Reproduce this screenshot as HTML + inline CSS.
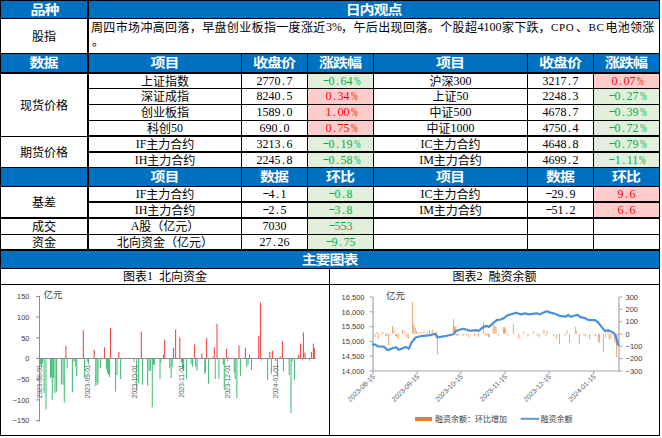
<!DOCTYPE html>
<html lang="zh-CN"><head><meta charset="utf-8"><title>股指日内观点</title><style>
*{margin:0;padding:0;box-sizing:border-box}
html,body{width:662px;height:438px;overflow:hidden;background:#fff}
body{position:relative}
div{position:absolute}
.t,.hb{font-family:"Liberation Sans","Noto Sans CJK SC",sans-serif;font-size:12px;color:#000;text-align:center;white-space:nowrap}
.hb{color:#fff;font-weight:bold;font-size:13px;letter-spacing:-0.9px;text-indent:-0.9px;transform:scaleX(1.15)}
.p{text-align:left;height:14px;line-height:14px}
.d{display:inline-block;width:6px;text-align:center;transform:translateY(-1px) scaleX(1.7)}
.w6{display:inline-block;width:6px;text-align:center}
.pc{display:inline-block;width:6px;text-align:center;transform:scaleX(0.66)}
.m{font-family:"Liberation Serif",serif;font-size:12px;position:relative;top:-1px}
svg{position:absolute;left:0;top:0}
</style></head>
<body>
<div style="left:1px;top:1px;width:658px;height:17px;background:#0070C0"></div>
<div style="left:1px;top:54px;width:658px;height:18px;background:#0070C0"></div>
<div style="left:1px;top:168px;width:658px;height:18px;background:#0070C0"></div>
<div style="left:1px;top:251px;width:658px;height:17px;background:#0070C0"></div>
<div style="left:308px;top:74px;width:65px;height:14px;background:#E2EFDA"></div>
<div style="left:594px;top:74px;width:65px;height:14px;background:#FFCCCC"></div>
<div style="left:308px;top:89px;width:65px;height:15px;background:#FFCCCC"></div>
<div style="left:594px;top:89px;width:65px;height:15px;background:#E2EFDA"></div>
<div style="left:308px;top:105px;width:65px;height:15px;background:#FFCCCC"></div>
<div style="left:594px;top:105px;width:65px;height:15px;background:#E2EFDA"></div>
<div style="left:308px;top:121px;width:65px;height:14px;background:#FFCCCC"></div>
<div style="left:594px;top:121px;width:65px;height:14px;background:#E2EFDA"></div>
<div style="left:308px;top:137px;width:65px;height:14px;background:#E2EFDA"></div>
<div style="left:594px;top:137px;width:65px;height:14px;background:#E2EFDA"></div>
<div style="left:308px;top:153px;width:65px;height:14px;background:#E2EFDA"></div>
<div style="left:594px;top:153px;width:65px;height:14px;background:#E2EFDA"></div>
<div style="left:308px;top:187px;width:65px;height:14px;background:#E2EFDA"></div>
<div style="left:594px;top:187px;width:65px;height:14px;background:#FFCCCC"></div>
<div style="left:308px;top:203px;width:65px;height:14px;background:#E2EFDA"></div>
<div style="left:594px;top:203px;width:65px;height:14px;background:#FFCCCC"></div>
<div style="left:308px;top:219px;width:65px;height:15px;background:#E2EFDA"></div>
<div style="left:308px;top:235px;width:65px;height:14px;background:#E2EFDA"></div>
<div style="left:0px;top:0px;width:660px;height:1px;background:#000"></div>
<div style="left:0px;top:18px;width:660px;height:1px;background:#000"></div>
<div style="left:0px;top:53px;width:660px;height:1px;background:#000"></div>
<div style="left:0px;top:72px;width:660px;height:2px;background:#000"></div>
<div style="left:87px;top:88px;width:573px;height:1px;background:#000"></div>
<div style="left:87px;top:104px;width:573px;height:1px;background:#000"></div>
<div style="left:87px;top:120px;width:573px;height:1px;background:#000"></div>
<div style="left:87px;top:135px;width:573px;height:2px;background:#000"></div>
<div style="left:0px;top:136px;width:87px;height:1px;background:#000"></div>
<div style="left:87px;top:151px;width:573px;height:2px;background:#000"></div>
<div style="left:0px;top:167px;width:660px;height:1px;background:#000"></div>
<div style="left:0px;top:186px;width:660px;height:1px;background:#000"></div>
<div style="left:87px;top:201px;width:573px;height:2px;background:#000"></div>
<div style="left:0px;top:217px;width:660px;height:2px;background:#000"></div>
<div style="left:0px;top:234px;width:660px;height:1px;background:#000"></div>
<div style="left:0px;top:249px;width:660px;height:2px;background:#000"></div>
<div style="left:0px;top:268px;width:660px;height:1px;background:#000"></div>
<div style="left:0px;top:284px;width:660px;height:1px;background:#000"></div>
<div style="left:0px;top:435px;width:660px;height:1px;background:#000"></div>
<div style="left:0px;top:0px;width:1px;height:436px;background:#000"></div>
<div style="left:659px;top:0px;width:1px;height:436px;background:#000"></div>
<div style="left:87px;top:0px;width:2px;height:251px;background:#000"></div>
<div style="left:241px;top:53px;width:1px;height:197px;background:#000"></div>
<div style="left:307px;top:53px;width:1px;height:197px;background:#000"></div>
<div style="left:373px;top:53px;width:1px;height:197px;background:#000"></div>
<div style="left:527px;top:53px;width:1px;height:197px;background:#000"></div>
<div style="left:593px;top:53px;width:1px;height:197px;background:#000"></div>
<div style="left:329px;top:268px;width:1px;height:168px;background:#000"></div>
<div class="hb" style="left:1px;top:1px;width:88px;height:17px;line-height:17px;">品种</div>
<div class="hb" style="left:89px;top:1px;width:570px;height:17px;line-height:17px;">日内观点</div>
<div class="t" style="left:1px;top:20px;width:86px;height:34px;line-height:34px;">股指</div>
<div class="t p" style="left:91px;top:21px;letter-spacing:0.35px">周四市场冲高回落，早盘创业板指一度涨近</div>
<div class="t p" style="left:326px;top:21px;letter-spacing:0px"><span class="m">3%</span></div>
<div class="t p" style="left:341px;top:21px;letter-spacing:0.4px">，午后出现回落。个股超</div>
<div class="t p" style="left:477.5px;top:21px;letter-spacing:0px"><span class="m">4100</span></div>
<div class="t p" style="left:502px;top:21px;letter-spacing:0.2px">家下跌，</div>
<div class="t p" style="left:551px;top:21px;letter-spacing:0px"><span class="m" style="font-size:11px;letter-spacing:0.6px">CPO</span></div>
<div class="t p" style="left:576px;top:21px;letter-spacing:0px">、</div>
<div class="t p" style="left:588.5px;top:21px;letter-spacing:0px"><span class="m" style="font-size:11px;letter-spacing:0.6px">BC</span></div>
<div class="t p" style="left:605.5px;top:21px;letter-spacing:0.25px">电池领涨</div>
<div class="t p" style="left:92px;top:35px">。</div>
<div class="hb" style="left:1px;top:54px;width:86px;height:18px;line-height:18px;">数据</div>
<div class="hb" style="left:89px;top:54px;width:152px;height:18px;line-height:18px;">项目</div>
<div class="hb" style="left:242px;top:54px;width:65px;height:18px;line-height:18px;">收盘价</div>
<div class="hb" style="left:308px;top:54px;width:65px;height:18px;line-height:18px;">涨跌幅</div>
<div class="hb" style="left:374px;top:54px;width:153px;height:18px;line-height:18px;">项目</div>
<div class="hb" style="left:528px;top:54px;width:65px;height:18px;line-height:18px;">收盘价</div>
<div class="hb" style="left:594px;top:54px;width:65px;height:18px;line-height:18px;">涨跌幅</div>
<div class="t" style="left:1px;top:75px;width:86px;height:62px;line-height:62px;">现货价格</div>
<div class="t" style="left:1px;top:138px;width:86px;height:30px;line-height:30px;">期货价格</div>
<div class="t" style="left:89px;top:75px;width:152px;height:14px;line-height:14px;">上证指数</div>
<div class="t" style="left:242px;top:75px;width:65px;height:14px;line-height:14px;"><span class="m">2770<span class="w6">.</span>7</span></div>
<div class="t" style="left:308px;top:75px;width:65px;height:14px;line-height:14px;color:#00B050"><span class="m"><span class="d">-</span>0<span class="w6">.</span>64<span class="pc">%</span></span></div>
<div class="t" style="left:374px;top:75px;width:153px;height:14px;line-height:14px;">沪深<span class="m">300</span></div>
<div class="t" style="left:528px;top:75px;width:65px;height:14px;line-height:14px;"><span class="m">3217<span class="w6">.</span>7</span></div>
<div class="t" style="left:594px;top:75px;width:65px;height:14px;line-height:14px;color:#FF0000"><span class="m">0<span class="w6">.</span>07<span class="pc">%</span></span></div>
<div class="t" style="left:89px;top:90px;width:152px;height:15px;line-height:15px;">深证成指</div>
<div class="t" style="left:242px;top:90px;width:65px;height:15px;line-height:15px;"><span class="m">8240<span class="w6">.</span>5</span></div>
<div class="t" style="left:308px;top:90px;width:65px;height:15px;line-height:15px;color:#FF0000"><span class="m">0<span class="w6">.</span>34<span class="pc">%</span></span></div>
<div class="t" style="left:374px;top:90px;width:153px;height:15px;line-height:15px;">上证<span class="m">50</span></div>
<div class="t" style="left:528px;top:90px;width:65px;height:15px;line-height:15px;"><span class="m">2248<span class="w6">.</span>3</span></div>
<div class="t" style="left:594px;top:90px;width:65px;height:15px;line-height:15px;color:#00B050"><span class="m"><span class="d">-</span>0<span class="w6">.</span>27<span class="pc">%</span></span></div>
<div class="t" style="left:89px;top:106px;width:152px;height:15px;line-height:15px;">创业板指</div>
<div class="t" style="left:242px;top:106px;width:65px;height:15px;line-height:15px;"><span class="m">1589<span class="w6">.</span>0</span></div>
<div class="t" style="left:308px;top:106px;width:65px;height:15px;line-height:15px;color:#FF0000"><span class="m">1<span class="w6">.</span>00<span class="pc">%</span></span></div>
<div class="t" style="left:374px;top:106px;width:153px;height:15px;line-height:15px;">中证<span class="m">500</span></div>
<div class="t" style="left:528px;top:106px;width:65px;height:15px;line-height:15px;"><span class="m">4678<span class="w6">.</span>7</span></div>
<div class="t" style="left:594px;top:106px;width:65px;height:15px;line-height:15px;color:#00B050"><span class="m"><span class="d">-</span>0<span class="w6">.</span>39<span class="pc">%</span></span></div>
<div class="t" style="left:89px;top:122px;width:152px;height:14px;line-height:14px;">科创<span class="m">50</span></div>
<div class="t" style="left:242px;top:122px;width:65px;height:14px;line-height:14px;"><span class="m">690<span class="w6">.</span>0</span></div>
<div class="t" style="left:308px;top:122px;width:65px;height:14px;line-height:14px;color:#FF0000"><span class="m">0<span class="w6">.</span>75<span class="pc">%</span></span></div>
<div class="t" style="left:374px;top:122px;width:153px;height:14px;line-height:14px;">中证<span class="m">1000</span></div>
<div class="t" style="left:528px;top:122px;width:65px;height:14px;line-height:14px;"><span class="m">4750<span class="w6">.</span>4</span></div>
<div class="t" style="left:594px;top:122px;width:65px;height:14px;line-height:14px;color:#00B050"><span class="m"><span class="d">-</span>0<span class="w6">.</span>72<span class="pc">%</span></span></div>
<div class="t" style="left:89px;top:138px;width:152px;height:14px;line-height:14px;"><span class="m">IF</span>主力合约</div>
<div class="t" style="left:242px;top:138px;width:65px;height:14px;line-height:14px;"><span class="m">3213<span class="w6">.</span>6</span></div>
<div class="t" style="left:308px;top:138px;width:65px;height:14px;line-height:14px;color:#00B050"><span class="m"><span class="d">-</span>0<span class="w6">.</span>19<span class="pc">%</span></span></div>
<div class="t" style="left:374px;top:138px;width:153px;height:14px;line-height:14px;"><span class="m">IC</span>主力合约</div>
<div class="t" style="left:528px;top:138px;width:65px;height:14px;line-height:14px;"><span class="m">4648<span class="w6">.</span>8</span></div>
<div class="t" style="left:594px;top:138px;width:65px;height:14px;line-height:14px;color:#00B050"><span class="m"><span class="d">-</span>0<span class="w6">.</span>79<span class="pc">%</span></span></div>
<div class="t" style="left:89px;top:154px;width:152px;height:14px;line-height:14px;"><span class="m">IH</span>主力合约</div>
<div class="t" style="left:242px;top:154px;width:65px;height:14px;line-height:14px;"><span class="m">2245<span class="w6">.</span>8</span></div>
<div class="t" style="left:308px;top:154px;width:65px;height:14px;line-height:14px;color:#00B050"><span class="m"><span class="d">-</span>0<span class="w6">.</span>58<span class="pc">%</span></span></div>
<div class="t" style="left:374px;top:154px;width:153px;height:14px;line-height:14px;"><span class="m">IM</span>主力合约</div>
<div class="t" style="left:528px;top:154px;width:65px;height:14px;line-height:14px;"><span class="m">4699<span class="w6">.</span>2</span></div>
<div class="t" style="left:594px;top:154px;width:65px;height:14px;line-height:14px;color:#00B050"><span class="m"><span class="d">-</span>1<span class="w6">.</span>11<span class="pc">%</span></span></div>
<div class="t" style="left:89px;top:188px;width:152px;height:14px;line-height:14px;"><span class="m">IF</span>主力合约</div>
<div class="t" style="left:242px;top:188px;width:65px;height:14px;line-height:14px;"><span class="m"><span class="d">-</span>4<span class="w6">.</span>1</span></div>
<div class="t" style="left:308px;top:188px;width:65px;height:14px;line-height:14px;color:#00B050"><span class="m"><span class="d">-</span>0<span class="w6">.</span>8</span></div>
<div class="t" style="left:374px;top:188px;width:153px;height:14px;line-height:14px;"><span class="m">IC</span>主力合约</div>
<div class="t" style="left:528px;top:188px;width:65px;height:14px;line-height:14px;"><span class="m"><span class="d">-</span>29<span class="w6">.</span>9</span></div>
<div class="t" style="left:594px;top:188px;width:65px;height:14px;line-height:14px;color:#FF0000"><span class="m">9<span class="w6">.</span>6</span></div>
<div class="t" style="left:89px;top:204px;width:152px;height:14px;line-height:14px;"><span class="m">IH</span>主力合约</div>
<div class="t" style="left:242px;top:204px;width:65px;height:14px;line-height:14px;"><span class="m"><span class="d">-</span>2<span class="w6">.</span>5</span></div>
<div class="t" style="left:308px;top:204px;width:65px;height:14px;line-height:14px;color:#00B050"><span class="m"><span class="d">-</span>3<span class="w6">.</span>8</span></div>
<div class="t" style="left:374px;top:204px;width:153px;height:14px;line-height:14px;"><span class="m">IM</span>主力合约</div>
<div class="t" style="left:528px;top:204px;width:65px;height:14px;line-height:14px;"><span class="m"><span class="d">-</span>51<span class="w6">.</span>2</span></div>
<div class="t" style="left:594px;top:204px;width:65px;height:14px;line-height:14px;color:#FF0000"><span class="m">6<span class="w6">.</span>6</span></div>
<div class="t" style="left:89px;top:220px;width:152px;height:15px;line-height:15px;"><span class="m">A</span>股（亿元）</div>
<div class="t" style="left:242px;top:220px;width:65px;height:15px;line-height:15px;"><span class="m">7030</span></div>
<div class="t" style="left:308px;top:220px;width:65px;height:15px;line-height:15px;color:#00B050"><span class="m"><span class="d">-</span>553</span></div>
<div class="t" style="left:89px;top:236px;width:152px;height:14px;line-height:14px;">北向资金（亿元）</div>
<div class="t" style="left:242px;top:236px;width:65px;height:14px;line-height:14px;"><span class="m">27<span class="w6">.</span>26</span></div>
<div class="t" style="left:308px;top:236px;width:65px;height:14px;line-height:14px;color:#00B050"><span class="m"><span class="d">-</span>9<span class="w6">.</span>75</span></div>
<div class="hb" style="left:89px;top:168px;width:152px;height:18px;line-height:18px;">项目</div>
<div class="hb" style="left:242px;top:168px;width:65px;height:18px;line-height:18px;">数据</div>
<div class="hb" style="left:308px;top:168px;width:65px;height:18px;line-height:18px;">环比</div>
<div class="hb" style="left:374px;top:168px;width:153px;height:18px;line-height:18px;">项目</div>
<div class="hb" style="left:528px;top:168px;width:65px;height:18px;line-height:18px;">数据</div>
<div class="hb" style="left:594px;top:168px;width:65px;height:18px;line-height:18px;">环比</div>
<div class="t" style="left:1px;top:188px;width:86px;height:30px;line-height:30px;">基差</div>
<div class="t" style="left:1px;top:220px;width:86px;height:15px;line-height:15px;">成交</div>
<div class="t" style="left:1px;top:236px;width:86px;height:14px;line-height:14px;">资金</div>
<div class="hb" style="left:1px;top:251px;width:658px;height:17px;line-height:17px;">主要图表</div>
<div class="t" style="left:1px;top:270px;width:328px;height:15px;line-height:15px;">图表<span class="m">1</span><span style="display:inline-block;width:6px"></span>北向资金</div>
<div class="t" style="left:330px;top:270px;width:329px;height:15px;line-height:15px;">图表<span class="m">2</span><span style="display:inline-block;width:6px"></span>融资余额</div>
<svg width="662" height="438" viewBox="0 0 662 438">
<rect x="39.95" y="358.5" width="1.1" height="6.2" fill="#4CC07E"/>
<rect x="40.95" y="358.5" width="1.1" height="8.3" fill="#4CC07E"/>
<rect x="41.95" y="358.5" width="1.1" height="5.0" fill="#4CC07E"/>
<rect x="43.55" y="358.5" width="1.1" height="34.8" fill="#4CC07E"/>
<rect x="45.45" y="358.5" width="1.1" height="50.9" fill="#4CC07E"/>
<rect x="49.95" y="358.5" width="1.1" height="19.5" fill="#4CC07E"/>
<rect x="50.95" y="358.5" width="1.1" height="18.6" fill="#4CC07E"/>
<rect x="51.75" y="358.5" width="1.1" height="41.4" fill="#4CC07E"/>
<rect x="52.95" y="358.5" width="1.1" height="19.5" fill="#4CC07E"/>
<rect x="54.45" y="358.5" width="1.1" height="34.8" fill="#4CC07E"/>
<rect x="55.95" y="358.5" width="1.1" height="33.1" fill="#4CC07E"/>
<rect x="60.85" y="358.5" width="1.1" height="26.1" fill="#4CC07E"/>
<rect x="62.45" y="358.5" width="1.1" height="26.1" fill="#4CC07E"/>
<rect x="63.75" y="358.5" width="1.1" height="43.9" fill="#4CC07E"/>
<rect x="66.65" y="358.5" width="1.1" height="9.9" fill="#4CC07E"/>
<rect x="71.85" y="358.5" width="1.1" height="33.9" fill="#4CC07E"/>
<rect x="73.45" y="358.5" width="1.1" height="3.3" fill="#4CC07E"/>
<rect x="75.15" y="358.5" width="1.1" height="8.3" fill="#4CC07E"/>
<rect x="76.15" y="358.5" width="1.1" height="17.8" fill="#4CC07E"/>
<rect x="83.95" y="358.5" width="1.1" height="19.5" fill="#4CC07E"/>
<rect x="87.85" y="358.5" width="1.1" height="6.2" fill="#4CC07E"/>
<rect x="95.15" y="358.5" width="1.1" height="27.3" fill="#4CC07E"/>
<rect x="96.45" y="358.5" width="1.1" height="26.5" fill="#4CC07E"/>
<rect x="97.45" y="358.5" width="1.1" height="24.8" fill="#4CC07E"/>
<rect x="100.05" y="358.5" width="1.1" height="9.9" fill="#4CC07E"/>
<rect x="105.85" y="358.5" width="1.1" height="10.8" fill="#4CC07E"/>
<rect x="106.95" y="358.5" width="1.1" height="14.5" fill="#4CC07E"/>
<rect x="107.95" y="358.5" width="1.1" height="16.6" fill="#4CC07E"/>
<rect x="109.05" y="358.5" width="1.1" height="18.6" fill="#4CC07E"/>
<rect x="114.95" y="358.5" width="1.1" height="33.1" fill="#4CC07E"/>
<rect x="116.45" y="358.5" width="1.1" height="16.6" fill="#4CC07E"/>
<rect x="120.05" y="358.5" width="1.1" height="20.7" fill="#4CC07E"/>
<rect x="136.15" y="358.5" width="1.1" height="31.0" fill="#4CC07E"/>
<rect x="138.05" y="358.5" width="1.1" height="24.4" fill="#4CC07E"/>
<rect x="141.95" y="358.5" width="1.1" height="26.1" fill="#4CC07E"/>
<rect x="147.05" y="358.5" width="1.1" height="27.3" fill="#4CC07E"/>
<rect x="148.45" y="358.5" width="1.1" height="12.4" fill="#4CC07E"/>
<rect x="149.95" y="358.5" width="1.1" height="12.4" fill="#4CC07E"/>
<rect x="151.75" y="358.5" width="1.1" height="48.9" fill="#4CC07E"/>
<rect x="152.95" y="358.5" width="1.1" height="6.2" fill="#4CC07E"/>
<rect x="153.95" y="358.5" width="1.1" height="6.2" fill="#4CC07E"/>
<rect x="159.45" y="358.5" width="1.1" height="20.7" fill="#4CC07E"/>
<rect x="160.45" y="358.5" width="1.1" height="4.1" fill="#4CC07E"/>
<rect x="169.15" y="358.5" width="1.1" height="9.9" fill="#4CC07E"/>
<rect x="170.65" y="358.5" width="1.1" height="19.5" fill="#4CC07E"/>
<rect x="171.65" y="358.5" width="1.1" height="8.3" fill="#4CC07E"/>
<rect x="180.85" y="358.5" width="1.1" height="4.1" fill="#4CC07E"/>
<rect x="181.95" y="358.5" width="1.1" height="10.3" fill="#4CC07E"/>
<rect x="183.05" y="358.5" width="1.1" height="12.4" fill="#4CC07E"/>
<rect x="185.95" y="358.5" width="1.1" height="20.3" fill="#4CC07E"/>
<rect x="190.45" y="358.5" width="1.1" height="5.4" fill="#4CC07E"/>
<rect x="191.85" y="358.5" width="1.1" height="8.3" fill="#4CC07E"/>
<rect x="195.05" y="358.5" width="1.1" height="8.3" fill="#4CC07E"/>
<rect x="196.45" y="358.5" width="1.1" height="12.4" fill="#4CC07E"/>
<rect x="204.25" y="358.5" width="1.1" height="15.3" fill="#4CC07E"/>
<rect x="207.95" y="358.5" width="1.1" height="25.3" fill="#4CC07E"/>
<rect x="204.95" y="358.5" width="1.1" height="14.1" fill="#4CC07E"/>
<rect x="214.65" y="358.5" width="1.1" height="20.7" fill="#4CC07E"/>
<rect x="218.35" y="358.5" width="1.1" height="20.7" fill="#4CC07E"/>
<rect x="222.75" y="358.5" width="1.1" height="6.2" fill="#4CC07E"/>
<rect x="223.75" y="358.5" width="1.1" height="31.0" fill="#4CC07E"/>
<rect x="233.65" y="358.5" width="1.1" height="14.1" fill="#4CC07E"/>
<rect x="234.65" y="358.5" width="1.1" height="20.7" fill="#4CC07E"/>
<rect x="236.35" y="358.5" width="1.1" height="39.7" fill="#4CC07E"/>
<rect x="239.85" y="358.5" width="1.1" height="17.4" fill="#4CC07E"/>
<rect x="246.15" y="358.5" width="1.1" height="8.3" fill="#4CC07E"/>
<rect x="247.55" y="358.5" width="1.1" height="6.2" fill="#4CC07E"/>
<rect x="250.95" y="358.5" width="1.1" height="11.6" fill="#4CC07E"/>
<rect x="260.75" y="358.5" width="1.1" height="2.1" fill="#4CC07E"/>
<rect x="267.05" y="358.5" width="1.1" height="21.5" fill="#4CC07E"/>
<rect x="270.85" y="358.5" width="1.1" height="15.3" fill="#4CC07E"/>
<rect x="276.95" y="358.5" width="1.1" height="16.6" fill="#4CC07E"/>
<rect x="282.85" y="358.5" width="1.1" height="12.8" fill="#4CC07E"/>
<rect x="288.65" y="358.5" width="1.1" height="16.6" fill="#4CC07E"/>
<rect x="290.45" y="358.5" width="1.1" height="54.6" fill="#4CC07E"/>
<rect x="291.65" y="358.5" width="1.1" height="3.3" fill="#4CC07E"/>
<rect x="293.95" y="358.5" width="1.1" height="21.5" fill="#4CC07E"/>
<rect x="301.85" y="358.5" width="1.1" height="2.1" fill="#4CC07E"/>
<rect x="309.15" y="358.5" width="1.1" height="2.1" fill="#4CC07E"/>
<rect x="65.35" y="345.7" width="1.1" height="12.8" fill="#F24A4A"/>
<rect x="82.75" y="330.3" width="1.1" height="28.2" fill="#F24A4A"/>
<rect x="93.65" y="349.8" width="1.1" height="8.7" fill="#F24A4A"/>
<rect x="103.95" y="347.3" width="1.1" height="11.2" fill="#F24A4A"/>
<rect x="109.95" y="327.9" width="1.1" height="30.6" fill="#F24A4A"/>
<rect x="118.25" y="351.9" width="1.1" height="6.6" fill="#F24A4A"/>
<rect x="140.75" y="331.6" width="1.1" height="26.9" fill="#F24A4A"/>
<rect x="162.95" y="354.4" width="1.1" height="4.1" fill="#F24A4A"/>
<rect x="164.15" y="339.5" width="1.1" height="19.0" fill="#F24A4A"/>
<rect x="172.95" y="347.7" width="1.1" height="10.8" fill="#F24A4A"/>
<rect x="175.05" y="329.5" width="1.1" height="29.0" fill="#F24A4A"/>
<rect x="179.25" y="337.4" width="1.1" height="21.1" fill="#F24A4A"/>
<rect x="193.95" y="344.4" width="1.1" height="14.1" fill="#F24A4A"/>
<rect x="201.25" y="353.5" width="1.1" height="5.0" fill="#F24A4A"/>
<rect x="206.05" y="338.2" width="1.1" height="20.3" fill="#F24A4A"/>
<rect x="212.25" y="357.3" width="1.1" height="1.2" fill="#F24A4A"/>
<rect x="213.75" y="347.3" width="1.1" height="11.2" fill="#F24A4A"/>
<rect x="216.45" y="323.7" width="1.1" height="34.8" fill="#F24A4A"/>
<rect x="225.85" y="349.0" width="1.1" height="9.5" fill="#F24A4A"/>
<rect x="227.95" y="357.3" width="1.1" height="1.2" fill="#F24A4A"/>
<rect x="238.45" y="345.3" width="1.1" height="13.2" fill="#F24A4A"/>
<rect x="244.85" y="347.7" width="1.1" height="10.8" fill="#F24A4A"/>
<rect x="248.95" y="354.4" width="1.1" height="4.1" fill="#F24A4A"/>
<rect x="258.15" y="335.7" width="1.1" height="22.8" fill="#F24A4A"/>
<rect x="259.95" y="302.6" width="1.1" height="55.9" fill="#F24A4A"/>
<rect x="269.15" y="351.9" width="1.1" height="6.6" fill="#F24A4A"/>
<rect x="271.85" y="350.6" width="1.1" height="7.9" fill="#F24A4A"/>
<rect x="279.55" y="356.4" width="1.1" height="2.1" fill="#F24A4A"/>
<rect x="281.85" y="341.5" width="1.1" height="17.0" fill="#F24A4A"/>
<rect x="298.05" y="354.8" width="1.1" height="3.7" fill="#F24A4A"/>
<rect x="299.95" y="343.6" width="1.1" height="14.9" fill="#F24A4A"/>
<rect x="302.85" y="332.4" width="1.1" height="26.1" fill="#F24A4A"/>
<rect x="304.45" y="352.7" width="1.1" height="5.8" fill="#F24A4A"/>
<rect x="310.85" y="351.9" width="1.1" height="6.6" fill="#F24A4A"/>
<rect x="312.85" y="343.6" width="1.1" height="14.9" fill="#F24A4A"/>
<rect x="313.85" y="348.1" width="1.1" height="10.3" fill="#F24A4A"/>
<line x1="39.5" y1="296" x2="39.5" y2="421.6" stroke="#8C8C8C" stroke-width="1"/>
<line x1="36" y1="358.5" x2="316" y2="358.5" stroke="#8C8C8C" stroke-width="1"/>
<line x1="36" y1="296.4" x2="39.5" y2="296.4" stroke="#8C8C8C" stroke-width="1"/>
<text x="29.5" y="299.1" text-anchor="end" font-size="7.5" font-family="Liberation Sans, Noto Sans CJK SC, sans-serif" fill="#404040">150</text>
<line x1="36" y1="317.1" x2="39.5" y2="317.1" stroke="#8C8C8C" stroke-width="1"/>
<text x="29.5" y="319.8" text-anchor="end" font-size="7.5" font-family="Liberation Sans, Noto Sans CJK SC, sans-serif" fill="#404040">100</text>
<line x1="36" y1="337.8" x2="39.5" y2="337.8" stroke="#8C8C8C" stroke-width="1"/>
<text x="29.5" y="340.5" text-anchor="end" font-size="7.5" font-family="Liberation Sans, Noto Sans CJK SC, sans-serif" fill="#404040">50</text>
<line x1="36" y1="358.5" x2="39.5" y2="358.5" stroke="#8C8C8C" stroke-width="1"/>
<text x="29.5" y="361.2" text-anchor="end" font-size="7.5" font-family="Liberation Sans, Noto Sans CJK SC, sans-serif" fill="#404040">0</text>
<line x1="36" y1="379.2" x2="39.5" y2="379.2" stroke="#8C8C8C" stroke-width="1"/>
<text x="29.5" y="381.9" text-anchor="end" font-size="7.5" font-family="Liberation Sans, Noto Sans CJK SC, sans-serif" fill="#404040">−50</text>
<line x1="36" y1="399.9" x2="39.5" y2="399.9" stroke="#8C8C8C" stroke-width="1"/>
<text x="29.5" y="402.6" text-anchor="end" font-size="7.5" font-family="Liberation Sans, Noto Sans CJK SC, sans-serif" fill="#404040">−100</text>
<line x1="36" y1="420.6" x2="39.5" y2="420.6" stroke="#8C8C8C" stroke-width="1"/>
<text x="29.5" y="423.3" text-anchor="end" font-size="7.5" font-family="Liberation Sans, Noto Sans CJK SC, sans-serif" fill="#404040">−150</text>
<text x="43.5" y="298" font-size="9.5" font-family="Liberation Sans, Noto Sans CJK SC, sans-serif" fill="#404040">亿元</text>
<line x1="39.5" y1="358.5" x2="39.5" y2="361.5" stroke="#8C8C8C" stroke-width="1"/>
<text transform="translate(41.8,364.5) rotate(-90)" text-anchor="end" font-size="6.6" font-family="Liberation Sans, Noto Sans CJK SC, sans-serif" fill="#595959">2023-08-01</text>
<line x1="87.7" y1="358.5" x2="87.7" y2="361.5" stroke="#8C8C8C" stroke-width="1"/>
<text transform="translate(90.0,364.5) rotate(-90)" text-anchor="end" font-size="6.6" font-family="Liberation Sans, Noto Sans CJK SC, sans-serif" fill="#595959">2023-09-01</text>
<line x1="134.2" y1="358.5" x2="134.2" y2="361.5" stroke="#8C8C8C" stroke-width="1"/>
<text transform="translate(136.5,364.5) rotate(-90)" text-anchor="end" font-size="6.6" font-family="Liberation Sans, Noto Sans CJK SC, sans-serif" fill="#595959">2023-10-01</text>
<line x1="181.9" y1="358.5" x2="181.9" y2="361.5" stroke="#8C8C8C" stroke-width="1"/>
<text transform="translate(184.2,364.5) rotate(-90)" text-anchor="end" font-size="6.6" font-family="Liberation Sans, Noto Sans CJK SC, sans-serif" fill="#595959">2023-11-01</text>
<line x1="227.7" y1="358.5" x2="227.7" y2="361.5" stroke="#8C8C8C" stroke-width="1"/>
<text transform="translate(230.0,364.5) rotate(-90)" text-anchor="end" font-size="6.6" font-family="Liberation Sans, Noto Sans CJK SC, sans-serif" fill="#595959">2023-12-01</text>
<line x1="275.8" y1="358.5" x2="275.8" y2="361.5" stroke="#8C8C8C" stroke-width="1"/>
<text transform="translate(278.1,364.5) rotate(-90)" text-anchor="end" font-size="6.6" font-family="Liberation Sans, Noto Sans CJK SC, sans-serif" fill="#595959">2024-01-01</text>
</svg>
<svg width="662" height="438" viewBox="0 0 662 438">
<rect x="374.5" y="333.7" width="1" height="3.3" fill="#F0A46E"/>
<rect x="376.3" y="332.2" width="1" height="1.5" fill="#F0A46E"/>
<rect x="377.7" y="333.7" width="1" height="5.4" fill="#F0A46E"/>
<rect x="380.5" y="333.7" width="1" height="1.3" fill="#F0A46E"/>
<rect x="382.5" y="332.0" width="1" height="1.7" fill="#F0A46E"/>
<rect x="385.2" y="333.7" width="1" height="2.7" fill="#F0A46E"/>
<rect x="386.3" y="333.7" width="1" height="2.3" fill="#F0A46E"/>
<rect x="388.2" y="333.7" width="1" height="11.6" fill="#F0A46E"/>
<rect x="392.0" y="326.1" width="1" height="7.6" fill="#F0A46E"/>
<rect x="393.4" y="330.2" width="1" height="3.5" fill="#F0A46E"/>
<rect x="395.1" y="333.7" width="1" height="2.3" fill="#F0A46E"/>
<rect x="396.2" y="333.7" width="1" height="3.3" fill="#F0A46E"/>
<rect x="397.8" y="333.7" width="1" height="5.4" fill="#F0A46E"/>
<rect x="401.9" y="329.2" width="1" height="4.5" fill="#F0A46E"/>
<rect x="403.7" y="331.0" width="1" height="2.7" fill="#F0A46E"/>
<rect x="406.4" y="333.7" width="1" height="3.8" fill="#F0A46E"/>
<rect x="407.8" y="333.7" width="1" height="5.1" fill="#F0A46E"/>
<rect x="411.9" y="302.1" width="1" height="31.6" fill="#F0A46E"/>
<rect x="413.3" y="323.3" width="1" height="10.4" fill="#F0A46E"/>
<rect x="414.7" y="327.5" width="1" height="6.2" fill="#F0A46E"/>
<rect x="416.0" y="331.0" width="1" height="2.7" fill="#F0A46E"/>
<rect x="418.1" y="332.5" width="1" height="1.2" fill="#F0A46E"/>
<rect x="420.5" y="332.0" width="1" height="1.7" fill="#F0A46E"/>
<rect x="423.5" y="331.5" width="1" height="2.2" fill="#F0A46E"/>
<rect x="426.5" y="332.0" width="1" height="1.7" fill="#F0A46E"/>
<rect x="429.0" y="330.2" width="1" height="3.5" fill="#F0A46E"/>
<rect x="431.8" y="329.4" width="1" height="4.3" fill="#F0A46E"/>
<rect x="435.8" y="331.7" width="1" height="2.0" fill="#F0A46E"/>
<rect x="436.9" y="333.7" width="1" height="20.8" fill="#F0A46E"/>
<rect x="452.9" y="319.1" width="1" height="14.6" fill="#F0A46E"/>
<rect x="454.0" y="326.0" width="1" height="7.7" fill="#F0A46E"/>
<rect x="455.2" y="327.1" width="1" height="6.6" fill="#F0A46E"/>
<rect x="456.3" y="333.7" width="1" height="2.3" fill="#F0A46E"/>
<rect x="457.8" y="333.7" width="1" height="1.4" fill="#F0A46E"/>
<rect x="462.5" y="333.7" width="1" height="2.3" fill="#F0A46E"/>
<rect x="466.0" y="333.7" width="1" height="1.8" fill="#F0A46E"/>
<rect x="468.3" y="333.7" width="1" height="3.7" fill="#F0A46E"/>
<rect x="474.0" y="333.7" width="1" height="1.8" fill="#F0A46E"/>
<rect x="475.7" y="333.7" width="1" height="1.3" fill="#F0A46E"/>
<rect x="478.0" y="333.7" width="1" height="3.1" fill="#F0A46E"/>
<rect x="483.1" y="322.0" width="1" height="11.7" fill="#F0A46E"/>
<rect x="484.2" y="333.7" width="1" height="0.8" fill="#F0A46E"/>
<rect x="485.5" y="333.7" width="1" height="1.3" fill="#F0A46E"/>
<rect x="486.5" y="333.7" width="1" height="1.8" fill="#F0A46E"/>
<rect x="487.9" y="333.7" width="1" height="3.3" fill="#F0A46E"/>
<rect x="488.8" y="333.7" width="1" height="3.7" fill="#F0A46E"/>
<rect x="492.6" y="322.0" width="1" height="11.7" fill="#F0A46E"/>
<rect x="494.3" y="325.4" width="1" height="8.3" fill="#F0A46E"/>
<rect x="495.5" y="326.5" width="1" height="7.2" fill="#F0A46E"/>
<rect x="498.3" y="333.7" width="1" height="1.8" fill="#F0A46E"/>
<rect x="502.9" y="327.1" width="1" height="6.6" fill="#F0A46E"/>
<rect x="504.0" y="327.1" width="1" height="6.6" fill="#F0A46E"/>
<rect x="505.2" y="328.8" width="1" height="4.9" fill="#F0A46E"/>
<rect x="507.5" y="333.7" width="1" height="1.8" fill="#F0A46E"/>
<rect x="512.8" y="324.3" width="1" height="9.4" fill="#F0A46E"/>
<rect x="514.3" y="333.7" width="1" height="0.8" fill="#F0A46E"/>
<rect x="518.3" y="333.7" width="1" height="5.4" fill="#F0A46E"/>
<rect x="523.4" y="331.5" width="1" height="2.2" fill="#F0A46E"/>
<rect x="527.4" y="333.7" width="1" height="3.1" fill="#F0A46E"/>
<rect x="533.1" y="331.5" width="1" height="2.2" fill="#F0A46E"/>
<rect x="536.5" y="333.7" width="1" height="1.8" fill="#F0A46E"/>
<rect x="538.8" y="333.7" width="1" height="3.7" fill="#F0A46E"/>
<rect x="543.4" y="329.9" width="1" height="3.8" fill="#F0A46E"/>
<rect x="545.7" y="333.7" width="1" height="1.8" fill="#F0A46E"/>
<rect x="546.6" y="331.0" width="1" height="2.7" fill="#F0A46E"/>
<rect x="553.0" y="333.7" width="1" height="2.3" fill="#F0A46E"/>
<rect x="555.8" y="333.7" width="1" height="5.0" fill="#F0A46E"/>
<rect x="559.0" y="333.7" width="1" height="10.2" fill="#F0A46E"/>
<rect x="564.5" y="333.7" width="1" height="1.8" fill="#F0A46E"/>
<rect x="566.7" y="330.7" width="1" height="3.0" fill="#F0A46E"/>
<rect x="569.0" y="333.7" width="1" height="9.0" fill="#F0A46E"/>
<rect x="574.8" y="327.0" width="1" height="6.7" fill="#F0A46E"/>
<rect x="575.9" y="331.0" width="1" height="2.7" fill="#F0A46E"/>
<rect x="578.8" y="333.7" width="1" height="10.7" fill="#F0A46E"/>
<rect x="583.4" y="333.7" width="1" height="1.8" fill="#F0A46E"/>
<rect x="585.1" y="333.7" width="1" height="2.8" fill="#F0A46E"/>
<rect x="589.1" y="333.7" width="1" height="5.6" fill="#F0A46E"/>
<rect x="594.9" y="333.7" width="1" height="2.8" fill="#F0A46E"/>
<rect x="597.7" y="333.7" width="1" height="8.4" fill="#F0A46E"/>
<rect x="598.9" y="333.7" width="1" height="9.0" fill="#F0A46E"/>
<rect x="602.9" y="333.7" width="1" height="18.8" fill="#F0A46E"/>
<rect x="605.2" y="333.7" width="1" height="3.8" fill="#F0A46E"/>
<rect x="607.5" y="329.5" width="1" height="4.2" fill="#F0A46E"/>
<rect x="608.6" y="333.7" width="1" height="5.3" fill="#F0A46E"/>
<rect x="610.4" y="333.7" width="1" height="4.8" fill="#F0A46E"/>
<rect x="614.4" y="333.7" width="1" height="9.6" fill="#F0A46E"/>
<rect x="616.1" y="333.7" width="1" height="23.4" fill="#F0A46E"/>
<rect x="617.3" y="333.7" width="1" height="11.3" fill="#F0A46E"/>
<line x1="373" y1="297" x2="373" y2="371.5" stroke="#A6A6A6" stroke-width="1.2"/>
<line x1="619" y1="297" x2="619" y2="371.5" stroke="#A6A6A6" stroke-width="1.2"/>
<line x1="373" y1="371" x2="619" y2="371" stroke="#A6A6A6" stroke-width="1.2"/>
<line x1="369.5" y1="297.0" x2="373" y2="297.0" stroke="#A6A6A6" stroke-width="1"/>
<text x="364.5" y="299.7" text-anchor="end" font-size="7.5" font-family="Liberation Sans, Noto Sans CJK SC, sans-serif" fill="#404040">16,500</text>
<line x1="369.5" y1="311.8" x2="373" y2="311.8" stroke="#A6A6A6" stroke-width="1"/>
<text x="364.5" y="314.5" text-anchor="end" font-size="7.5" font-family="Liberation Sans, Noto Sans CJK SC, sans-serif" fill="#404040">16,000</text>
<line x1="369.5" y1="326.6" x2="373" y2="326.6" stroke="#A6A6A6" stroke-width="1"/>
<text x="364.5" y="329.3" text-anchor="end" font-size="7.5" font-family="Liberation Sans, Noto Sans CJK SC, sans-serif" fill="#404040">15,500</text>
<line x1="369.5" y1="341.4" x2="373" y2="341.4" stroke="#A6A6A6" stroke-width="1"/>
<text x="364.5" y="344.1" text-anchor="end" font-size="7.5" font-family="Liberation Sans, Noto Sans CJK SC, sans-serif" fill="#404040">15,000</text>
<line x1="369.5" y1="356.2" x2="373" y2="356.2" stroke="#A6A6A6" stroke-width="1"/>
<text x="364.5" y="358.9" text-anchor="end" font-size="7.5" font-family="Liberation Sans, Noto Sans CJK SC, sans-serif" fill="#404040">14,500</text>
<line x1="369.5" y1="371.0" x2="373" y2="371.0" stroke="#A6A6A6" stroke-width="1"/>
<text x="364.5" y="373.7" text-anchor="end" font-size="7.5" font-family="Liberation Sans, Noto Sans CJK SC, sans-serif" fill="#404040">14,000</text>
<line x1="619" y1="297.0" x2="622.5" y2="297.0" stroke="#A6A6A6" stroke-width="1"/>
<text x="625.5" y="299.7" font-size="7.5" font-family="Liberation Sans, Noto Sans CJK SC, sans-serif" fill="#404040">300</text>
<line x1="619" y1="309.3" x2="622.5" y2="309.3" stroke="#A6A6A6" stroke-width="1"/>
<text x="625.5" y="312.0" font-size="7.5" font-family="Liberation Sans, Noto Sans CJK SC, sans-serif" fill="#404040">200</text>
<line x1="619" y1="321.7" x2="622.5" y2="321.7" stroke="#A6A6A6" stroke-width="1"/>
<text x="625.5" y="324.4" font-size="7.5" font-family="Liberation Sans, Noto Sans CJK SC, sans-serif" fill="#404040">100</text>
<line x1="619" y1="334.0" x2="622.5" y2="334.0" stroke="#A6A6A6" stroke-width="1"/>
<text x="625.5" y="336.7" font-size="7.5" font-family="Liberation Sans, Noto Sans CJK SC, sans-serif" fill="#404040">0</text>
<line x1="619" y1="346.3" x2="622.5" y2="346.3" stroke="#A6A6A6" stroke-width="1"/>
<text x="625.5" y="349.0" font-size="7.5" font-family="Liberation Sans, Noto Sans CJK SC, sans-serif" fill="#404040">−100</text>
<line x1="619" y1="358.6" x2="622.5" y2="358.6" stroke="#A6A6A6" stroke-width="1"/>
<text x="625.5" y="361.3" font-size="7.5" font-family="Liberation Sans, Noto Sans CJK SC, sans-serif" fill="#404040">−200</text>
<line x1="619" y1="371.0" x2="622.5" y2="371.0" stroke="#A6A6A6" stroke-width="1"/>
<text x="625.5" y="373.7" font-size="7.5" font-family="Liberation Sans, Noto Sans CJK SC, sans-serif" fill="#404040">−300</text>
<line x1="373" y1="371" x2="373" y2="374.5" stroke="#A6A6A6" stroke-width="1"/>
<text transform="translate(375.5,377) rotate(-45)" text-anchor="end" font-size="7" font-family="Liberation Sans, Noto Sans CJK SC, sans-serif" fill="#595959">2023-08-15</text>
<line x1="417.2" y1="371" x2="417.2" y2="374.5" stroke="#A6A6A6" stroke-width="1"/>
<text transform="translate(419.7,377) rotate(-45)" text-anchor="end" font-size="7" font-family="Liberation Sans, Noto Sans CJK SC, sans-serif" fill="#595959">2023-09-15</text>
<line x1="460.7" y1="371" x2="460.7" y2="374.5" stroke="#A6A6A6" stroke-width="1"/>
<text transform="translate(463.2,377) rotate(-45)" text-anchor="end" font-size="7" font-family="Liberation Sans, Noto Sans CJK SC, sans-serif" fill="#595959">2023-10-15</text>
<line x1="504.9" y1="371" x2="504.9" y2="374.5" stroke="#A6A6A6" stroke-width="1"/>
<text transform="translate(507.4,377) rotate(-45)" text-anchor="end" font-size="7" font-family="Liberation Sans, Noto Sans CJK SC, sans-serif" fill="#595959">2023-11-15</text>
<line x1="549" y1="371" x2="549" y2="374.5" stroke="#A6A6A6" stroke-width="1"/>
<text transform="translate(551.5,377) rotate(-45)" text-anchor="end" font-size="7" font-family="Liberation Sans, Noto Sans CJK SC, sans-serif" fill="#595959">2023-12-15</text>
<line x1="593.7" y1="371" x2="593.7" y2="374.5" stroke="#A6A6A6" stroke-width="1"/>
<text transform="translate(596.2,377) rotate(-45)" text-anchor="end" font-size="7" font-family="Liberation Sans, Noto Sans CJK SC, sans-serif" fill="#595959">2024-01-15</text>
<polyline points="372.9,344.3 375.8,344.9 377.8,346.3 383.6,346.7 387.9,350.2 392.3,348.2 396.2,347.2 398.7,349.8 402,348.6 405.9,346.9 408.8,348.8 411.7,342.4 415.6,337.5 420.5,336.2 426.3,335.6 430.2,335.2 435,333.7 437.3,337.5 444.7,336.2 453.4,334.2 456.3,330.8 463.1,328.8 467,329.8 469.9,330.8 475.8,330.2 478.7,330.8 483.5,326.9 486.4,325.9 489,326.9 493.2,323 496.7,320.1 501,319.5 503.9,318.1 507.8,315.2 516.5,312.7 520.4,314.3 525.2,313.3 528.1,314.3 536.9,313.3 539.8,314.3 546.6,311.3 551.4,312.9 556.3,314.3 559.2,315.8 565.8,316.6 568.2,314.8 570.7,316.8 577.5,314.8 580.4,317.2 584.3,317.8 587.2,319.5 590.1,320.1 594.9,320.1 597.8,322 600.8,325.9 605,331.1 608.1,330.2 611.4,331.7 614.3,333.7 616.3,338.5 618.2,344.9" fill="none" stroke="#4A90D9" stroke-width="2.2" stroke-linejoin="round" stroke-linecap="round"/>
<text x="386" y="299" font-size="9.5" font-family="Liberation Sans, Noto Sans CJK SC, sans-serif" fill="#404040">亿元</text>
<rect x="415" y="417" width="17" height="4" fill="#ED7D31"/>
<text x="435" y="422" font-size="8" font-family="Liberation Sans, Noto Sans CJK SC, sans-serif" fill="#404040">融资余额：环比增加</text>
<line x1="520.6" y1="418.8" x2="539.2" y2="418.8" stroke="#5B9BD5" stroke-width="2"/>
<text x="540.5" y="422" font-size="8" font-family="Liberation Sans, Noto Sans CJK SC, sans-serif" fill="#404040">融资余额</text>
</svg>
</body></html>
